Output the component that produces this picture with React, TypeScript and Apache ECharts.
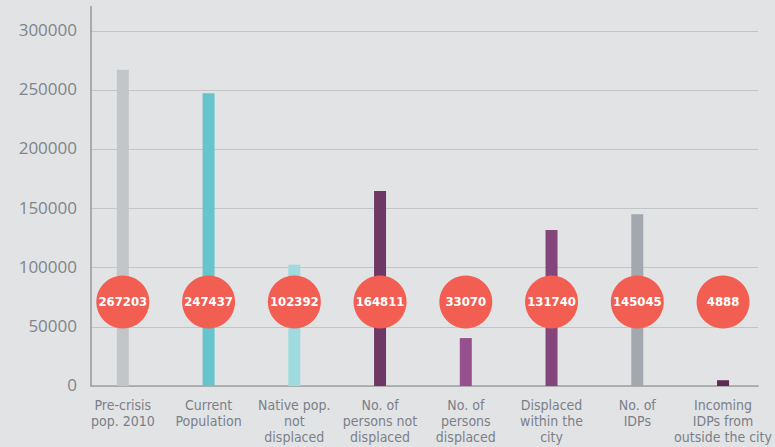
import React, { useEffect, useRef } from "react";
import * as echarts from "echarts";

const categories = [
  "Pre-crisis\npop. 2010",
  "Current\nPopulation",
  "Native pop.\nnot\ndisplaced",
  "No. of\npersons not\ndisplaced",
  "No. of\npersons\ndisplaced",
  "Displaced\nwithin the\ncity",
  "No. of\nIDPs",
  "Incoming\nIDPs from\noutside the city",
];
// bar heights as drawn in the picture
const barValues = [267203, 247437, 102392, 164811, 40500, 131740, 145045, 4888];
// values printed in the red circles
const labelValues = ["267203", "247437", "102392", "164811", "33070", "131740", "145045", "4888"];
const barColors = ["#c3c6c9", "#66c5cc", "#9fdade", "#6e3866", "#97508e", "#84457a", "#a2a8ae", "#5e2a58"];
const yTicks = { min: 0, max: 300000, interval: 50000 };
const circleLevel = 71000;

export default function App() {
  const ref = useRef<HTMLDivElement>(null);
  useEffect(() => {
    document.body.style.margin = "0";
    if (!ref.current) return;
    const chart = echarts.init(ref.current, undefined, { renderer: "svg" });
    const condensed = "'Liberation Sans Narrow', 'DejaVu Sans Condensed', 'Arial Narrow', sans-serif";
    chart.setOption({
      animation: false,
      backgroundColor: "#e2e3e5",
      grid: { left: 91, right: 14, top: 31, bottom: 61, containLabel: false },
      xAxis: {
        type: "value",
        min: -0.371,
        max: 7.41,
        axisLine: { show: true, onZero: false, lineStyle: { color: "#a2a3a5", width: 1.5 } },
        axisTick: { show: false },
        splitLine: { show: false },
        axisLabel: {
          customValues: categories.map((_, i) => i),
          formatter: (v: number) => categories[Math.round(v)] ?? "",
          color: "#7b8088",
          fontFamily: condensed,
          fontSize: 14,
          lineHeight: 16,
          margin: 11,
          align: "center",
        },
      },
      yAxis: {
        type: "value",
        min: yTicks.min,
        max: yTicks.max,
        interval: yTicks.interval,
        axisLine: { show: true, onZero: false, lineStyle: { color: "#98999b", width: 1.5 } },
        axisTick: { show: false },
        splitLine: { show: true, lineStyle: { color: "#c3c4c6", width: 1.2 } },
        axisLabel: {
          formatter: (v: number) => String(v),
          color: "#80858b",
          fontFamily: "'Open Sans', 'Noto Sans', sans-serif",
          fontSize: 17,
          margin: 14,
          verticalAlign: "bottom",
          padding: [0, 0, -7, 0],
        },
      },
      graphic: [
        {
          type: "line",
          shape: { x1: 91, y1: 6, x2: 91, y2: 31 },
          style: { stroke: "#98999b", lineWidth: 1.5 },
        },
      ],
      series: [
        {
          type: "bar",
          barWidth: 12,
          data: barValues.map((v, i) => ({ value: [i, v], itemStyle: { color: barColors[i] } })),
        },
        {
          type: "scatter",
          symbol: "circle",
          symbolSize: 53,
          itemStyle: { color: "#f25e52", opacity: 1 },
          label: {
            show: true,
            position: "inside",
            formatter: (p: any) => labelValues[p.dataIndex],
            color: "#ffffff",
            fontFamily: condensed,
            fontWeight: "bold",
            fontSize: 13,
          },
          data: labelValues.map((_, i) => [i, circleLevel]),
          z: 5,
        },
      ],
    });
    return () => chart.dispose();
  }, []);
  return <div ref={ref} style={{ width: 775, height: 447 }} />;
}
